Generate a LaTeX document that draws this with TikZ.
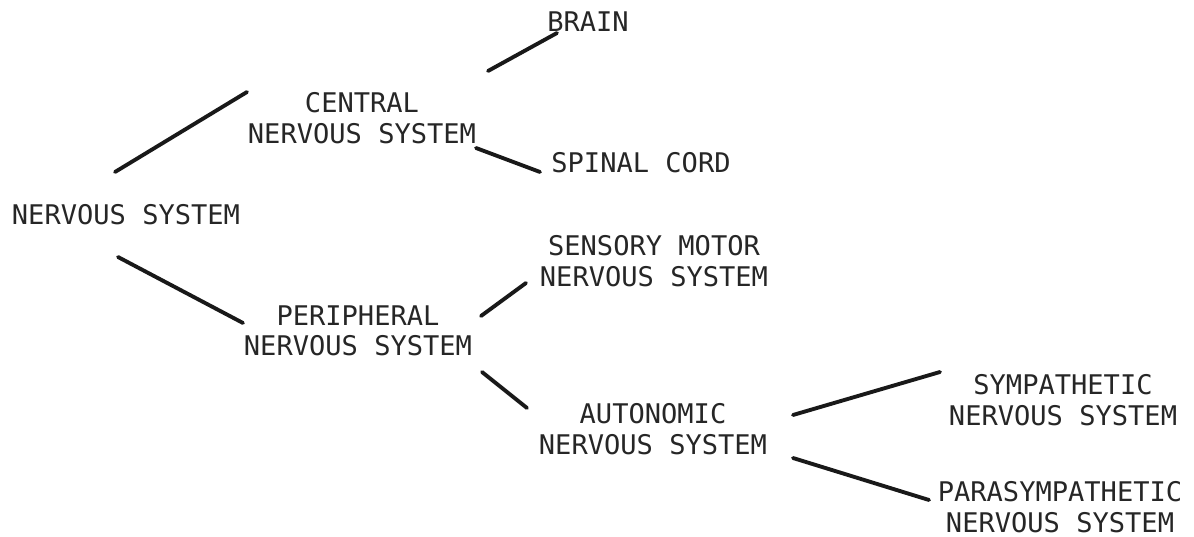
\documentclass[tikz,border=0pt]{standalone}
\usepackage{fontspec}
\newfontfamily\typefont{DejaVu Sans Mono}
\usepackage{tikz}

\begin{document}
\begin{tikzpicture}[
  x=0.1mm, y=-0.1mm,
  term/.style={align=center, inner sep=0pt, font=\typefont\fontsize{7.7}{8.7}\selectfont, text=black!85},
  branch/.style={line width=1.1pt, black!90, line cap=round},
]
\useasboundingbox[fill=white] (0,0) rectangle (1194,537);

% ── Root ──
\node[term] (ns) at (126,215) {NERVOUS SYSTEM};

% ── Second level ──
\node[term] (cns) at (362,118) {CENTRAL\\NERVOUS SYSTEM};
\node[term] (pns) at (358,331) {PERIPHERAL\\NERVOUS SYSTEM};

% ── Third level ──
\node[term] (brain) at (588,22) {BRAIN};
\node[term] (spinal) at (641,163) {SPINAL CORD};
\node[term] (sens) at (654,261) {SENSORY MOTOR\\NERVOUS SYSTEM};
\node[term] (aut) at (653,429) {AUTONOMIC\\NERVOUS SYSTEM};

% ── Fourth level ──
\node[term] (sym) at (1063,400) {SYMPATHETIC\\NERVOUS SYSTEM};
\node[term] (para) at (1060,507) {PARASYMPATHETIC\\NERVOUS SYSTEM};

% ── Branches ──
\draw[branch] ([shift={(-11,-43)}]ns.center) -- ([shift={(-115,-26)}]cns.center);
\draw[branch] ([shift={(-8,42)}]ns.center) -- ([shift={(-115,-8)}]pns.center);

\draw[branch] ([shift={(126,-47)}]cns.center) -- ([shift={(-31,11)}]brain.center);
\draw[branch] ([shift={(114,30)}]cns.center) -- ([shift={(-101,9)}]spinal.center);

\draw[branch] ([shift={(123,-15)}]pns.center) -- ([shift={(-128,22)}]sens.center);
\draw[branch] ([shift={(124,41)}]pns.center) -- ([shift={(-126,-21)}]aut.center);

\draw[branch] ([shift={(140,-14)}]aut.center) -- ([shift={(-123,-28)}]sym.center);
\draw[branch] ([shift={(140,29)}]aut.center) -- ([shift={(-131,-7)}]para.center);

\end{tikzpicture}
\end{document}
